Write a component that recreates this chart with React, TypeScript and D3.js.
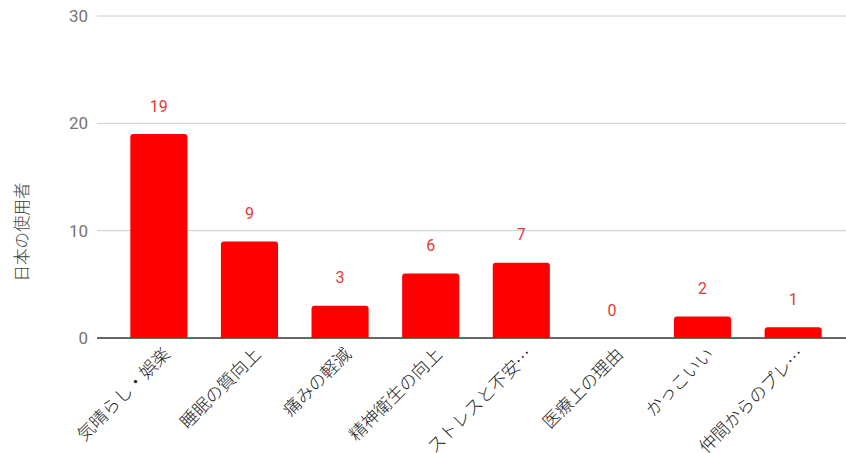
import * as d3 from "d3";

const categories = [
  "気晴らし・娯楽",
  "睡眠の質向上",
  "痛みの軽減",
  "精神衛生の向上",
  "ストレスと不安…",
  "医療上の理由",
  "かっこいい",
  "仲間からのプレ…",
];
const values = [19, 9, 3, 6, 7, 0, 2, 1];
const yTicks = [0, 10, 20, 30];

const W = 846;
const H = 453;
const GRID_LEFT = 97;
const GRID_RIGHT = 846;
const PLOT = { left: 114, right: 838, top: 16, bottom: 338 };
const FONT = "Roboto, 'Noto Sans CJK JP', sans-serif";

export default function App() {
  const x = d3
    .scaleBand<string>()
    .domain(categories)
    .range([PLOT.left, PLOT.right])
    .paddingInner(0.37)
    .paddingOuter(0.18);
  const y = d3.scaleLinear().domain([0, 30]).range([PLOT.bottom, PLOT.top]);

  return (
    <svg
      width={W}
      height={H}
      style={{ position: "absolute", left: 0, top: 0, background: "#fff" }}
    >
      {yTicks.map((t) => (
        <g key={t}>
          <line
            x1={GRID_LEFT}
            x2={GRID_RIGHT}
            y1={y(t)}
            y2={y(t)}
            stroke={t === 0 ? "#333" : "#ccc"}
            strokeWidth={t === 0 ? 1.5 : 1}
          />
          <text
            x={88}
            y={y(t)}
            dy="0.35em"
            textAnchor="end"
            fontSize={17}
            fontFamily={FONT}
            fill="#757575"
          >
            {t}
          </text>
        </g>
      ))}
      {categories.map((c, i) => {
        const v = values[i];
        const bx = x(c)!;
        const bw = x.bandwidth();
        const top = y(v);
        const h = y(0) - top;
        const cx = bx + bw / 2;
        const r = Math.min(3, h / 2);
        return (
          <g key={c}>
            {h > 0 && (
              <path
                d={`M${bx},${y(0)} V${top + r} Q${bx},${top} ${bx + r},${top} H${bx + bw - r} Q${bx + bw},${top} ${bx + bw},${top + r} V${y(0)} Z`}
                fill="#ff0000"
              />
            )}
            <text
              x={cx}
              y={top - 28}
              dy="0.35em"
              textAnchor="middle"
              fontSize={16}
              fontFamily={FONT}
              fill="#e53935"
            >
              {v}
            </text>
            <text
              transform={`translate(${cx + 8},${y(0) + 13}) rotate(-45)`}
              textAnchor="end"
              dy="0.35em"
              fontSize={17.5}
              fontFamily="'Noto Sans CJK JP', sans-serif"
              fontWeight={300}
              fill="#222"
            >
              {c}
            </text>
          </g>
        );
      })}
      <text
        transform={`translate(22,${(PLOT.top + PLOT.bottom) / 2 + 55}) rotate(-90)`}
        textAnchor="middle"
        dy="0.35em"
        fontSize={16.5}
        fontFamily="'Noto Sans CJK JP', sans-serif"
        fontWeight={300}
        fill="#444"
      >
        日本の使用者
      </text>
    </svg>
  );
}
